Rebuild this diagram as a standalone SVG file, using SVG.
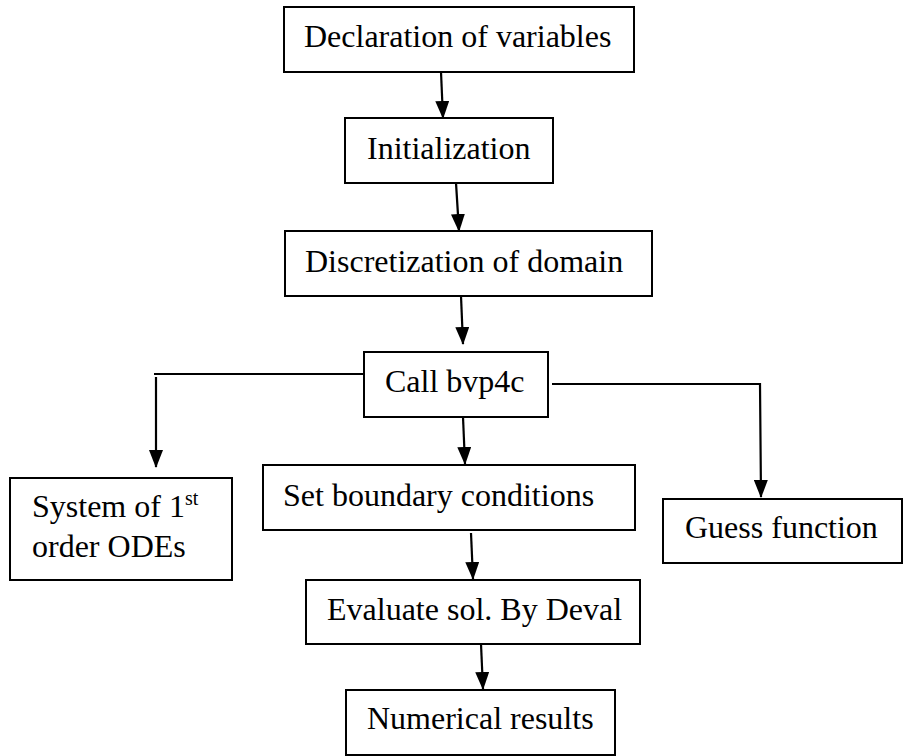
<svg xmlns="http://www.w3.org/2000/svg" width="904" height="756" viewBox="0 0 904 756">
<defs>
<marker id="ah" markerUnits="userSpaceOnUse" markerWidth="18" markerHeight="14" refX="17" refY="7" orient="auto">
<path d="M0,0 L18,7 L0,14 z" fill="#000"/>
</marker>
<style>
.box{fill:#fff;stroke:#000;stroke-width:2}
.t{font-family:"Liberation Serif","Times New Roman",serif;font-size:32px;fill:#000}
.c{fill:none;stroke:#000;stroke-width:2.2}
.a{marker-end:url(#ah)}
</style>
</defs>
<rect width="904" height="756" fill="#fff"/>
<g id="connectors">
<line class="c a" x1="441" y1="72" x2="443" y2="118"/>
<line class="c a" x1="456" y1="183" x2="459" y2="231"/>
<line class="c a" x1="461" y1="296" x2="463" y2="344"/>
<line class="c" x1="154" y1="374" x2="364" y2="374"/>
<line class="c a" x1="156" y1="377" x2="156" y2="467"/>
<line class="c a" x1="463" y1="417" x2="465" y2="464"/>
<path class="c a" d="M552,384 L760,384 L761,497"/>
<line class="c a" x1="471" y1="533" x2="473" y2="579"/>
<line class="c a" x1="481" y1="644" x2="483" y2="689"/>
</g>
<g id="n1"><rect class="box" x="284" y="7" width="350" height="65"/><text class="t" x="304" y="47">Declaration of variables</text></g>
<g id="n2"><rect class="box" x="345" y="118" width="208" height="65"/><text class="t" x="367" y="159">Initialization</text></g>
<g id="n3"><rect class="box" x="285" y="231" width="367" height="65"/><text class="t" x="305" y="272">Discretization of domain</text></g>
<g id="n4"><rect class="box" x="364" y="352" width="184" height="65"/><text class="t" x="385" y="392">Call bvp4c</text></g>
<g id="n5"><rect class="box" x="10" y="478" width="222" height="102"/><text class="t" x="32" y="517">System of 1<tspan font-size="20" dy="-12">st</tspan></text><text class="t" x="32" y="557">order ODEs</text></g>
<g id="n6"><rect class="box" x="263" y="465" width="372" height="65"/><text class="t" x="283" y="506">Set boundary conditions</text></g>
<g id="n7"><rect class="box" x="663" y="499" width="239" height="64"/><text class="t" x="685" y="538">Guess function</text></g>
<g id="n8"><rect class="box" x="306" y="580" width="334" height="64"/><text class="t" x="327" y="620">Evaluate sol. By Deval</text></g>
<g id="n9"><rect class="box" x="346" y="690" width="269" height="65"/><text class="t" x="367" y="729">Numerical results</text></g>
</svg>
